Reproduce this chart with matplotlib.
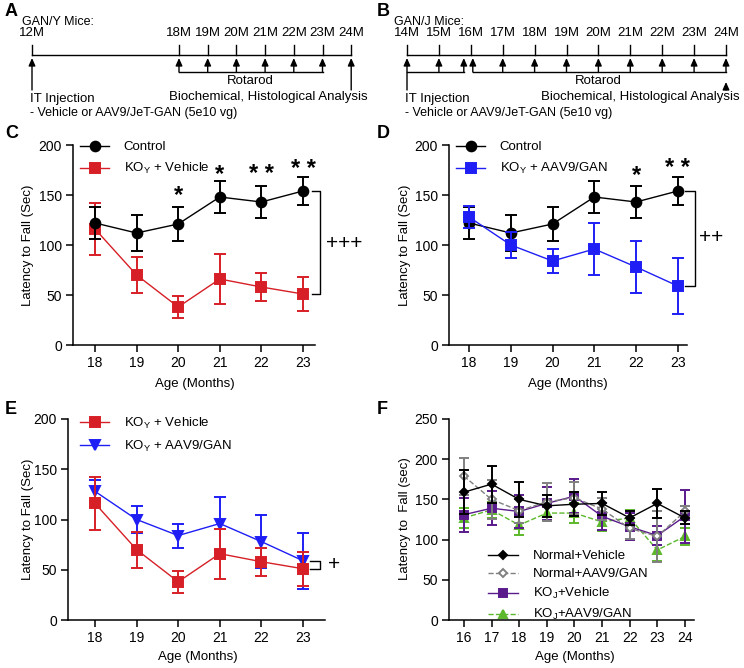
import numpy as np
import matplotlib.pyplot as plt
from matplotlib.lines import Line2D

plt.rcParams['font.family'] = ['Liberation Sans', 'DejaVu Sans']
plt.rcParams['mathtext.fontset'] = 'custom'
plt.rcParams['mathtext.rm'] = 'Liberation Sans'

W, H = 744, 668

# timelines (panels A and B)
months_a = ['12M', '18M', '19M', '20M', '21M', '22M', '23M', '24M']
months_b = ['14M', '15M', '16M', '17M', '18M', '19M', '20M', '21M', '22M', '23M', '24M']

# GAN/Y mice rotarod (panels C, D, E)
age_y = [18, 19, 20, 21, 22, 23]
ctrl_mean = [122, 112, 121, 148, 143, 154]
ctrl_err = [16, 18, 17, 16, 16, 14]
veh_mean = [116, 70, 38, 66, 58, 51]
veh_err = [26, 18, 11, 25, 14, 17]
gan_mean = [128, 100, 84, 96, 78, 59]
gan_err = [11, 13, 12, 26, 26, 28]

# GAN/J mice rotarod (panel F)
age_j = [16, 17, 18, 19, 20, 21, 22, 23, 24]
nv_mean = [159, 169, 150, 142, 144, 145, 127, 145, 127]
nv_err = [27, 23, 22, 14, 15, 14, 9, 18, 8]
ng_mean = [179, 150, 136, 147, 152, 138, 114, 104, 135]
ng_err = [23, 24, 15, 24, 20, 14, 13, 32, 7]
kv_mean = [131, 139, 135, 145, 154, 129, 116, 105, 129]
kv_err = [21, 21, 21, 20, 21, 17, 17, 12, 33]
kg_mean = [127, 137, 118, 133, 133, 122, 127, 87, 104]
kg_err = [12, 10, 12, 10, 12, 11, 10, 14, 11]

RED = '#d61f26'
BLUE = '#1e1ef5'
PURPLE = '#5a1a8c'
GREEN = '#5cb82a'
GRAY = '#808080'

KO_Y = r'KO$_\mathregular{Y}$'
KO_J = r'KO$_\mathregular{J}$'

fig = plt.figure(figsize=(W / 100, H / 100), dpi=100)

# overlay in pixel coords (y down) for timelines and labels
ov = fig.add_axes([0, 0, 1, 1])
ov.set_xlim(0, W)
ov.set_ylim(H, 0)
ov.axis('off')


def px_axes(left, top, right, bottom):
    return fig.add_axes([left / W, 1 - bottom / H, (right - left) / W, (bottom - top) / H])


def style(ax, ymax, xticks):
    for s in ['top', 'right']:
        ax.spines[s].set_visible(False)
    for s in ['left', 'bottom']:
        ax.spines[s].set_linewidth(1.1)
    ax.tick_params(direction='out', length=5, width=1.1, labelsize=10, pad=3)
    ax.set_ylim(0, ymax)
    ax.set_yticks(np.arange(0, ymax + 1, 50))
    ax.set_xticks(xticks)
    ax.patch.set_alpha(0)


def series(ax, x, y, e, color, marker, ms, ls='-', mfc=None, cap=4.5, z=3):
    ax.errorbar(x, y, yerr=e, color=color, marker=marker, ms=ms, ls=ls, lw=1,
                elinewidth=1.4, capsize=cap, capthick=1.4, mfc=mfc or color,
                mec=color, mew=1.4, zorder=z, clip_on=False)


def handle(color, marker, ms, ls='-', mfc=None):
    return Line2D([], [], color=color, marker=marker, ms=ms, ls=ls, lw=1,
                  mfc=mfc or color, mec=color, mew=1.4)


def px_legend(ax, handles, labels, x, y, fs=9.5, hl=2.2, sp=0.6):
    ax.legend(handles, labels, loc='upper left', bbox_to_anchor=(x / W, 1 - y / H),
              bbox_transform=fig.transFigure, frameon=False, fontsize=fs,
              handlelength=hl, handletextpad=1.1, labelspacing=sp,
              borderpad=0, borderaxespad=0)


def arrow(x, y0, y1):
    ov.annotate('', xy=(x, y1), xytext=(x, y0),
                arrowprops=dict(arrowstyle='-|>,head_width=0.2,head_length=0.45',
                                lw=1, color='k', shrinkA=0, shrinkB=0))


def timeline(xs, labels):
    ov.plot([xs[0], xs[-1]], [55, 55], color='k', lw=1)
    for x, lab in zip(xs, labels):
        ov.plot([x, x], [45, 55], color='k', lw=1)
        ov.text(x, 33, lab, ha='center', va='center', fontsize=9.5)


def bracket(ax, x0, x1, y0, y1):
    ax.plot([x0, x1, x1, x0], [y0, y0, y1, y1], color='k', lw=1, clip_on=False)


def stars(ax, pts):
    for x, s, yv in pts:
        ax.text(x, yv, s, fontsize=17, fontweight='bold', ha='center', va='baseline')


# ---- A ----
xs_a = [32] + [179 + 28.7 * i for i in range(len(months_a) - 1)]
ov.text(5, 12, 'A', fontsize=13, fontweight='bold', va='center')
ov.text(22, 22, 'GAN/Y Mice:', fontsize=9, va='center')
timeline(xs_a, months_a)
for x in xs_a[1:-1]:
    arrow(x, 72, 58)
ov.plot([xs_a[1], xs_a[-2]], [72, 72], color='k', lw=1)
arrow(xs_a[0], 90, 58)
arrow(xs_a[-1], 90, 58)
ov.text((xs_a[1] + xs_a[-2]) / 2, 81, 'Rotarod', fontsize=9.5, ha='center', va='center')
ov.text(368, 97, 'Biochemical, Histological Analysis', fontsize=9.5, ha='right', va='center')
ov.text(30, 99, 'IT Injection', fontsize=9.5, va='center')
ov.text(30, 113, '- Vehicle or AAV9/JeT-GAN (5e10 vg)', fontsize=9, va='center')

# ---- B ----
xs_b = [407 + 31.9 * i for i in range(len(months_b))]
ov.text(377, 12, 'B', fontsize=13, fontweight='bold', va='center')
ov.text(394, 22, 'GAN/J Mice:', fontsize=9, va='center')
timeline(xs_b, months_b)
arrow(xs_b[0], 90, 58)
arrow(xs_b[1], 72, 58)
arrow(xs_b[2] - 7, 72, 58)
ov.plot([xs_b[0], xs_b[2] - 7], [72, 72], color='k', lw=1)
arrow(xs_b[2] + 2, 72, 58)
for x in xs_b[3:]:
    arrow(x, 72, 58)
ov.plot([xs_b[2] + 2, xs_b[-1]], [72, 72], color='k', lw=1)
arrow(xs_b[-1], 90, 82)
ov.text((xs_b[2] + xs_b[-1]) / 2, 81, 'Rotarod', fontsize=9.5, ha='center', va='center')
ov.text(740, 97, 'Biochemical, Histological Analysis', fontsize=9.5, ha='right', va='center')
ov.text(405, 99, 'IT Injection', fontsize=9.5, va='center')
ov.text(405, 113, '- Vehicle or AAV9/JeT-GAN (5e10 vg)', fontsize=9, va='center')

# ---- C ----
axc = px_axes(73, 145, 315, 345)
style(axc, 200, age_y)
axc.set_xlim(17.47, 23.29)
series(axc, age_y, veh_mean, veh_err, RED, 's', 7)
series(axc, age_y, ctrl_mean, ctrl_err, 'k', 'o', 7, z=4)
px_legend(axc, [handle('k', 'o', 7), handle(RED, 's', 7)],
          ['Control', KO_Y + ' + Vehicle'], 80, 141)
stars(axc, [(20, '*', 143), (21, '*', 164), (22, '* *', 164), (23, '* *', 169)])
bracket(axc, 23.22, 23.41, ctrl_mean[-1], veh_mean[-1])
axc.text(24.0, 102, '+++', fontsize=15, ha='center', va='center')
ov.text(5, 134, 'C', fontsize=13, fontweight='bold', va='center')

# ---- D ----
axd = px_axes(449, 145, 687, 345)
style(axd, 200, age_y)
axd.set_xlim(17.52, 23.22)
series(axd, age_y, ctrl_mean, ctrl_err, 'k', 'o', 7)
series(axd, age_y, gan_mean, gan_err, BLUE, 's', 7, z=4)
px_legend(axd, [handle('k', 'o', 7), handle(BLUE, 's', 7)],
          ['Control', KO_Y + ' + AAV9/GAN'], 456, 141)
stars(axd, [(22, '*', 163), (23, '* *', 170)])
bracket(axd, 23.17, 23.41, ctrl_mean[-1], gan_mean[-1])
axd.text(23.8, 108, '++', fontsize=15, ha='center', va='center')
ov.text(377, 134, 'D', fontsize=13, fontweight='bold', va='center')

# ---- E ----
axe = px_axes(68, 419, 325, 620)
style(axe, 200, age_y)
axe.set_xlim(17.35, 23.53)
series(axe, age_y, gan_mean, gan_err, BLUE, 'v', 7)
series(axe, age_y, veh_mean, veh_err, RED, 's', 7, z=4)
px_legend(axe, [handle(RED, 's', 7), handle(BLUE, 'v', 7)],
          [KO_Y + ' + Vehicle', KO_Y + ' + AAV9/GAN'], 80, 416)
bracket(axe, 23.17, 23.41, gan_mean[-1], veh_mean[-1])
axe.text(23.74, 55, '+', fontsize=15, ha='center', va='center')
ov.text(5, 410, 'E', fontsize=13, fontweight='bold', va='center')

# ---- F ----
axf = px_axes(449, 419, 694, 620)
style(axf, 250, age_j)
axf.set_xlim(15.46, 24.33)
series(axf, age_j, kg_mean, kg_err, GREEN, '^', 6, ls='--', cap=3.5, z=3)
series(axf, age_j, kv_mean, kv_err, PURPLE, 's', 6, cap=3.5, z=4)
series(axf, age_j, ng_mean, ng_err, GRAY, 'D', 4.5, ls='--', mfc='white', cap=3.5, z=5)
series(axf, age_j, nv_mean, nv_err, 'k', 'D', 4.5, cap=3.5, z=6)
px_legend(axf, [handle('k', 'D', 4.5), handle(GRAY, 'D', 4.5, ls='--', mfc='white'),
                handle(PURPLE, 's', 6), handle(GREEN, '^', 6, ls='--')],
          ['Normal+Vehicle', 'Normal+AAV9/GAN', KO_J + '+Vehicle', KO_J + '+AAV9/GAN'],
          488, 550, fs=9.5, hl=2.3, sp=0.45)
ov.text(377, 410, 'F', fontsize=13, fontweight='bold', va='center')

# axis titles
for x, y in [(28, 245), (405, 245), (28, 519), (405, 519)]:
    ov.text(x, y, 'Latency to Fall (Sec)' if x == 28 or y == 245 else 'Latency to  Fall (sec)',
            rotation=90, ha='center', va='center', fontsize=9.5)
for x, y in [(195, 384), (568, 384), (198, 657), (575, 657)]:
    ov.text(x, y, 'Age (Months)', ha='center', va='center', fontsize=9.5)

fig.savefig('out.png', dpi=100)
